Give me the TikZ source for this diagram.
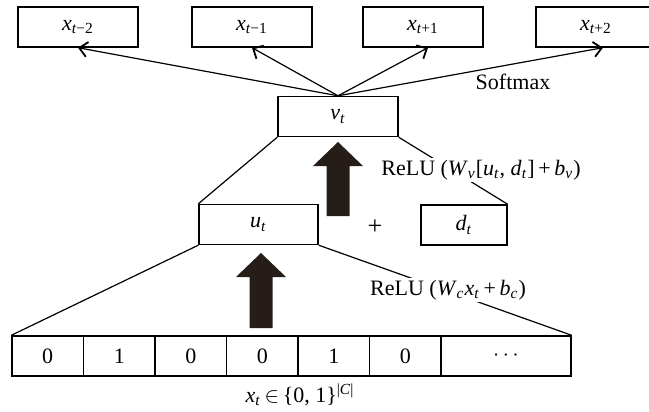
\documentclass[tikz,border=0pt]{standalone}
\usepackage{fontspec}
\setmainfont{Liberation Serif}
\usetikzlibrary{arrows.meta,calc}
\definecolor{arrowdark}{RGB}{38,28,24}

\newcommand{\iv}[2]{\textit{#1}\textsubscript{\textit{#2}}}

\begin{document}
\begin{tikzpicture}[
  x=0.5pt, y=-0.5pt,
  font=\fontsize{11}{13}\selectfont,
  box/.style={draw=black, line width=0.7pt, minimum width=60pt,
              minimum height=20pt, inner sep=0pt, fill=white},
  cell/.style={draw=black, line width=0.7pt, minimum width=35.75pt,
               minimum height=20pt, inner sep=0pt},
  link/.style={line width=0.6pt},
  outlink/.style={link, -{Straight Barb[length=4pt, width=7.5pt, line width=0.9pt]}},
  note/.style={fill=white, inner sep=1pt},
  bigarrow/.style={fill=arrowdark}
]
\clip (0,0) rectangle (649,412);

% Izhodne besede
\node[box] (xa) at (78,27)  {\textit{x}\textsubscript{\textit{t}−2}};
\node[box] (xb) at (252,27) {\textit{x}\textsubscript{\textit{t}−1}};
\node[box] (xc) at (423,27) {\textit{x}\textsubscript{\textit{t}+1}};
\node[box] (xd) at (596,27) {\textit{x}\textsubscript{\textit{t}+2}};

% Skriti sloji
\node[box] (vt) at (338,116.5) {\iv{v}{t}};
\node[box, minimum width=59.5pt] (ut) at (258.5,224.5) {\iv{u}{t}};
\node[box, minimum width=43pt] (dt) at (464,225) {\iv{d}{t}};
\node (plus) at (375,227) {\fontsize{13}{13}\selectfont +};

\draw[outlink] (vt.north) -- (xa.south);
\draw[outlink] (vt.north) -- (xb.south);
\draw[outlink] (vt.north) -- ($(xc.south)+(5,0)$);
\draw[outlink] (vt.north) -- ($(xd.south)+(7,0)$);
\node (soft) at (513,82) {Softmax};

\draw[link] (vt.south west) -- (ut.north west);
\draw[link] (vt.south east) -- (dt.north east);
\node[note] (relu1) at (481,170)
  {ReLU (\iv{W}{v}[\iv{u}{t}, \iv{d}{t}]\,+\,\iv{b}{v})};

\coordinate (up1) at (338,216);
\fill[bigarrow, shift={(up1)}] (-11.5,0) -- (-11.5,-50) -- (-25,-50) -- (0,-74)
  -- (25,-50) -- (11.5,-50) -- (11.5,0) -- cycle;

% Vhodni vektor
\foreach \v [count=\i from 0] in {0,1,0,0,1,0}
  \node[cell] (c\i) at ({47.75+71.5*\i},356) {\v};
\node[cell, minimum width=65pt] (cdots) at (506,356) {$\cdots$};
\node (xin) at (300,395)
  {\iv{x}{t}\,$\in$\,\{0, 1\}\textsuperscript{|\textit{C}|}};

\draw[link] (ut.south west) -- (c0.north west);
\draw[link] (ut.south east) -- (cdots.north east);
\node[note] (relu2) at (448,290)
  {ReLU (\iv{W}{c}\iv{x}{t}\,+\,\iv{b}{c})};

\coordinate (up2) at (261,328);
\fill[bigarrow, shift={(up2)}] (-11.5,0) -- (-11.5,-51) -- (-25,-51) -- (0,-75)
  -- (25,-51) -- (11.5,-51) -- (11.5,0) -- cycle;

\end{tikzpicture}
\end{document}
